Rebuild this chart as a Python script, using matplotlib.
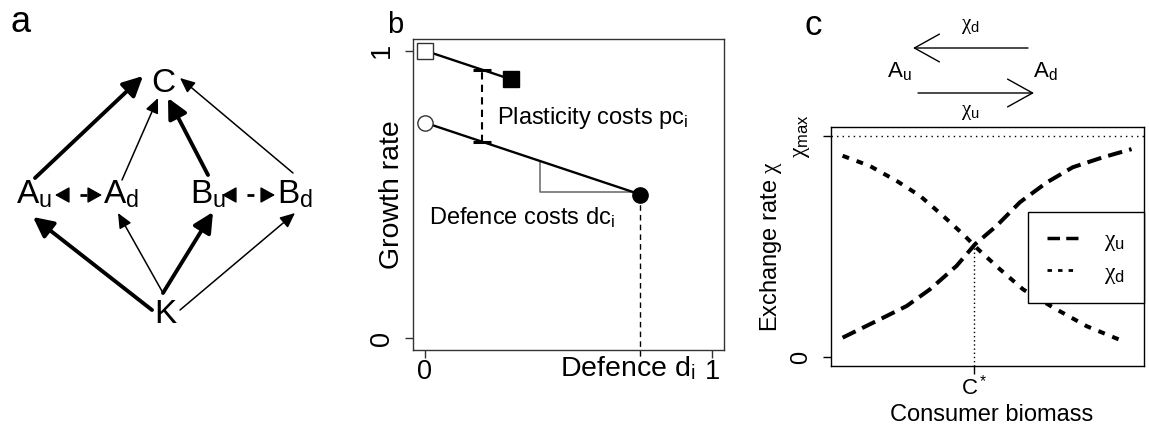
import numpy as np
import matplotlib.pyplot as plt
from matplotlib.patches import FancyArrowPatch, Rectangle
from matplotlib.lines import Line2D

plt.rcParams['font.family'] = ['Liberation Sans', 'DejaVu Sans']
plt.rcParams['mathtext.fontset'] = 'custom'
plt.rcParams['mathtext.rm'] = 'Liberation Sans'
plt.rcParams['mathtext.it'] = 'Liberation Serif'
plt.rcParams['mathtext.bf'] = 'Liberation Sans:bold'

W, H = 1149, 430

# ---- panel a: food web (positions in figure pixels) ----
node_labels = [r'A$_\mathrm{u}$', r'A$_\mathrm{d}$', r'B$_\mathrm{u}$', r'B$_\mathrm{d}$', 'C', 'K']
node_x = [34, 121, 208, 295, 163, 165]
node_y = [203, 203, 203, 203, 92, 323]

feed_from = [(35, 178), (122, 180), (208, 175), (293, 173), (152, 310), (163, 293), (163, 293), (180, 310)]
feed_to = [(143, 76), (158, 98), (168, 98), (180, 78), (33, 217), (118, 213), (213, 212), (295, 213)]
feed_strong = [True, False, True, False, True, False, True, False]

switch_left = [(55, 195), (222, 195)]
switch_right = [(102, 195), (275, 195)]

# ---- panel b: growth rate vs defence ----
plastic_d = [0.0, 0.3]
plastic_r = [1.0, 0.9]
fixed_d = [0.0, 0.75]
fixed_r = [0.75, 0.5]
pc_d = 0.2
pc_r = [0.683, 0.933]
slope_d = [0.4, 0.4, 0.75]
slope_r = [0.617, 0.51, 0.51]

# ---- panel c: exchange rates vs consumer biomass ----
chi_u_x = [0.0, 0.129, 0.221, 0.301, 0.393, 0.457, 0.531, 0.612, 0.704, 0.794, 0.898, 0.997]
chi_u_y = [0.088, 0.171, 0.231, 0.306, 0.412, 0.51, 0.593, 0.70, 0.789, 0.858, 0.903, 0.94]
chi_d_x = [0.0, 0.094, 0.187, 0.267, 0.347, 0.416, 0.468, 0.543, 0.623, 0.727, 0.842, 0.968]
chi_d_y = [0.91, 0.864, 0.796, 0.729, 0.638, 0.555, 0.487, 0.397, 0.306, 0.224, 0.14, 0.072]
c_star = 0.455
c_star_chi = 0.51
chi_max = 1.0

fig = plt.figure(figsize=(W / 100, H / 100), dpi=100)

ov = fig.add_axes([0, 0, 1, 1])
ov.set_xlim(0, W)
ov.set_ylim(H, 0)
ov.axis('off')

# panel letters
ov.text(21, 32, 'a', fontsize=26, ha='center', va='baseline')
ov.text(395, 33, 'b', fontsize=21, ha='center', va='baseline')
ov.text(813, 35, 'c', fontsize=25, ha='center', va='baseline')

for lab, x, y in zip(node_labels, node_x, node_y):
    ov.text(x, y, lab, fontsize=24, ha='center', va='baseline')

for p0, p1, strong in zip(feed_from, feed_to, feed_strong):
    if strong:
        st = '-|>,head_length=12,head_width=6'
        lw = 2.8
    else:
        st = '-|>,head_length=9,head_width=4'
        lw = 1.1
    ov.add_patch(FancyArrowPatch(p0, p1, arrowstyle=st, mutation_scale=1,
                                 lw=lw, color='black', shrinkA=0, shrinkB=0))

for pl, pr in zip(switch_left, switch_right):
    hl = 13
    ov.plot([pl[0] + hl, pr[0] - hl], [pl[1], pr[1]], color='black', lw=2,
            ls=(2.5, (2.5, 4.3)), solid_capstyle='butt')
    ov.add_patch(FancyArrowPatch((pl[0] + hl, pl[1]), pl, arrowstyle='-|>,head_length=9,head_width=5',
                                 mutation_scale=1, lw=1, color='black', shrinkA=0, shrinkB=0))
    ov.add_patch(FancyArrowPatch((pr[0] - hl, pr[1]), pr, arrowstyle='-|>,head_length=9,head_width=5',
                                 mutation_scale=1, lw=1, color='black', shrinkA=0, shrinkB=0))

# schematic above panel c
ov.add_patch(FancyArrowPatch((1028, 48), (913, 48), arrowstyle='->,head_length=18,head_width=10',
                             mutation_scale=1, lw=1, color='black', shrinkA=0, shrinkB=0))
ov.add_patch(FancyArrowPatch((918, 93), (1034, 93), arrowstyle='->,head_length=18,head_width=10',
                             mutation_scale=1, lw=1, color='black', shrinkA=0, shrinkB=0))
ov.text(887, 77, r'A$_\mathrm{u}$', fontsize=16, ha='left', va='baseline')
ov.text(1033, 77, r'A$_\mathrm{d}$', fontsize=16, ha='left', va='baseline')
ov.text(970, 26, r'$\chi_\mathrm{d}$', fontsize=15, ha='center', va='center')
ov.text(970, 113, r'$\chi_\mathrm{u}$', fontsize=15, ha='center', va='center')

# ---------------- panel b ----------------
axb = fig.add_axes([413 / W, 1 - 350 / H, 311 / W, 311 / H])
axb.set_xlim(-0.04, 1.04)
axb.set_ylim(-0.04, 1.04)
axb.plot(plastic_d, plastic_r, color='black', lw=1.7, zorder=3)
axb.plot(fixed_d, fixed_r, color='black', lw=1.7, zorder=3)
axb.plot(slope_d, slope_r, color='#666666', lw=1.1, zorder=2)
axb.plot([pc_d, pc_d], pc_r, color='black', lw=1.5, ls=(0, (3.5, 2.5)), zorder=3)
axb.hlines(pc_r, pc_d - 0.032, pc_d + 0.032, color='black', lw=2.2, zorder=3)
axb.plot([fixed_d[1], fixed_d[1]], [fixed_r[1], -0.068], color='black', lw=1,
         ls=(0, (4, 3)), clip_on=False, zorder=2)
axb.plot(plastic_d[0], plastic_r[0], 's', ms=11, mfc='white', mec='#333333', mew=1, zorder=4, clip_on=False)
axb.plot(plastic_d[1], plastic_r[1], 's', ms=11.5, mfc='black', mec='black', zorder=4)
axb.plot(fixed_d[0], fixed_r[0], 'o', ms=11, mfc='white', mec='#333333', mew=1, zorder=4)
axb.plot(fixed_d[1], fixed_r[1], 'o', ms=11, mfc='black', mec='black', zorder=4)
axb.text(0.253, 0.746, r'Plasticity costs pc$_\mathrm{i}$', fontsize=17, ha='left', va='baseline')
axb.text(0.014, 0.396, r'Defence costs dc$_\mathrm{i}$', fontsize=17, ha='left', va='baseline')
axb.set_xticks([0, 1])
axb.set_xticklabels(['0', '1'], fontsize=19.5)
axb.set_yticks([0, 1])
axb.set_yticklabels(['0', '1'], fontsize=19.5, rotation=90, va='center')
axb.tick_params(axis='x', length=5.8, width=1, pad=1, color='#333333')
axb.tick_params(axis='y', length=5.8, width=1, pad=7, color='#333333')
for s in axb.spines.values():
    s.set_color('#333333')
    s.set_linewidth(1)
axb.text(-0.0675, 0.5, 'Growth rate', fontsize=20.5, rotation=90, ha='center', va='center',
         transform=axb.transAxes)
ov.text(560, 376, r'Defence d$_\mathrm{i}$', fontsize=20.5, ha='left', va='baseline')

# ---------------- panel c ----------------
axc = fig.add_axes([831 / W, 1 - 366 / H, 313 / W, 239 / H])
axc.set_xlim(-0.04, 1.04)
axc.set_ylim(-0.04, 1.04)
axc.axhline(chi_max, color='black', lw=1, ls=(0, (1, 3)))
axc.plot(chi_u_x, chi_u_y, color='black', lw=2.9, ls=(0, (3.6, 1.8)))
axc.plot(chi_d_x, chi_d_y, color='black', lw=2.9, ls=(0, (1.7, 2.0)))
axc.plot([c_star, c_star], [-0.04, c_star_chi], color='black', lw=1, ls=(0, (1, 2)))
axc.set_xticks([c_star])
axc.set_xticklabels([r'C$^*$'], fontsize=16)
axc.set_yticks([0, chi_max])
axc.set_yticklabels(['0', r'$\chi_{\mathrm{max}}$'], fontsize=17, rotation=90, va='center')
axc.tick_params(axis='x', length=5.8, width=1, pad=1)
axc.tick_params(axis='y', length=5.8, width=1, pad=8)
for s in axc.spines.values():
    s.set_linewidth(1)

# legend box sits on top of the curves (white fill hides them)
axc.add_patch(Rectangle((0.629, 0.264), 0.371, 0.381, transform=axc.transAxes,
                        facecolor='white', edgecolor='black', lw=1, zorder=3, clip_on=False))
handles = [Line2D([], [], color='black', lw=2.5, ls=(0, (3.6, 1.8))),
           Line2D([], [], color='black', lw=2, ls=(0, (1.6, 2.2)))]
axc.legend(handles, [r'$\chi_\mathrm{u}$', r'$\chi_\mathrm{d}$'], loc='center',
           bbox_to_anchor=(0.629, 0.264, 0.371, 0.381), frameon=False, fontsize=17,
           handlelength=1.3, handletextpad=1.1, labelspacing=0.35).set_zorder(5)

axc.text(-0.192, 0.5, r'Exchange rate $\chi$', fontsize=17, rotation=90, ha='center', va='center',
         transform=axc.transAxes)
axc.text(0.514, -0.205, 'Consumer biomass', fontsize=17, ha='center', va='center',
         transform=axc.transAxes)

fig.savefig('out.png', dpi=100)
